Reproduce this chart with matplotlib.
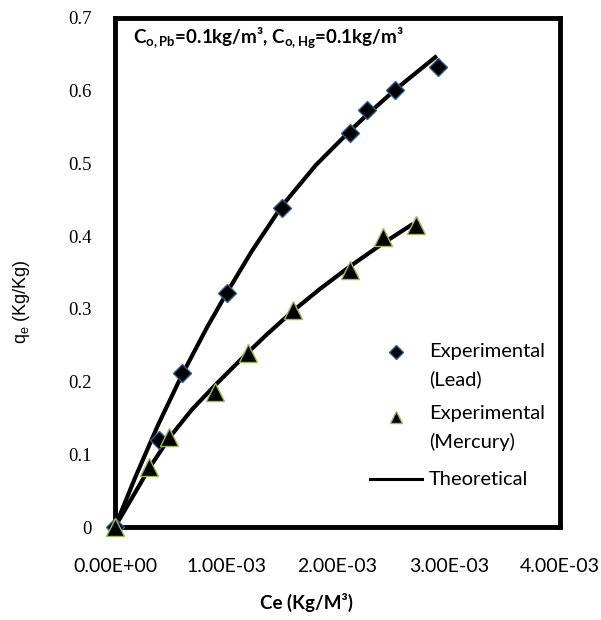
import matplotlib
matplotlib.use("Agg")
import matplotlib.pyplot as plt

plt.rcParams['font.family'] = ['Lato', 'DejaVu Sans']

# experimental points (Ce in kg/m3, qe in kg/kg)
ce_lead = [0.0, 0.40e-3, 0.60e-3, 1.01e-3, 1.50e-3, 2.11e-3, 2.27e-3, 2.52e-3, 2.90e-3]
qe_lead = [0.0, 0.120, 0.212, 0.322, 0.439, 0.542, 0.574, 0.601, 0.633]

ce_hg = [0.0, 0.31e-3, 0.49e-3, 0.90e-3, 1.20e-3, 1.60e-3, 2.11e-3, 2.41e-3, 2.71e-3]
qe_hg = [0.0, 0.083, 0.124, 0.186, 0.239, 0.298, 0.354, 0.399, 0.415]

# theoretical curves
ce_lead_th = [0.0, 0.180e-3, 0.387e-3, 0.602e-3, 0.827e-3, 1.007e-3, 1.231e-3,
              1.501e-3, 1.807e-3, 2.112e-3, 2.265e-3, 2.517e-3, 2.894e-3]
qe_lead_th = [0.0, 0.0674, 0.1403, 0.2091, 0.2744, 0.3226, 0.3796,
              0.4415, 0.4979, 0.5447, 0.5667, 0.6011, 0.6479]

ce_hg_th = [0.0, 0.153e-3, 0.315e-3, 0.494e-3, 0.692e-3, 0.899e-3, 1.196e-3, 1.366e-3,
            1.600e-3, 1.843e-3, 2.112e-3, 2.409e-3, 2.679e-3]
qe_hg_th = [0.0, 0.040, 0.0825, 0.1238, 0.1616, 0.1948, 0.2401, 0.2649,
            0.2971, 0.3274, 0.3584, 0.3901, 0.4168]

x_ticks = [0, 1e-3, 2e-3, 3e-3, 4e-3]
x_labels = ['0.00E+00', '1.00E-03', '2.00E-03', '3.00E-03', '4.00E-03']
y_ticks = [0, 0.1, 0.2, 0.3, 0.4, 0.5, 0.6, 0.7]
y_labels = ['0', '0.1', '0.2', '0.3', '0.4', '0.5', '0.6', '0.7']

lead_edge = '#2e5d8f'
hg_edge = '#9bbb59'

fig = plt.figure(figsize=(6.01, 6.2), dpi=100)
ax = fig.add_axes([0.1913, 0.150, 0.7404, 0.821])

ax.plot(ce_lead_th, qe_lead_th, color='black', lw=3, zorder=2,
        solid_capstyle='butt', solid_joinstyle='round')
ax.plot(ce_hg_th, qe_hg_th, color='black', lw=3, zorder=2,
        solid_capstyle='butt', solid_joinstyle='round')
ax.plot(ce_lead, qe_lead, ls='none', marker='D', ms=9.5, mfc='black', mec=lead_edge,
        mew=1, zorder=3, clip_on=False)
ax.plot(ce_hg, qe_hg, ls='none', marker='^', ms=13, mfc='black', mec=hg_edge,
        mew=1, zorder=3, clip_on=False)

ax.set_xlim(0, 4e-3)
ax.set_ylim(0, 0.7)
ax.set_xticks(x_ticks)
ax.set_xticklabels(x_labels, fontsize=14)
ax.set_yticks(y_ticks)
ax.set_yticklabels(y_labels, fontsize=13.5, family='Liberation Serif')
ax.tick_params(axis='both', length=0)
ax.tick_params(axis='x', pad=22)
ax.tick_params(axis='y', pad=17)
for s in ax.spines.values():
    s.set_linewidth(3.5)

ax.set_xlabel('Ce (Kg/M³)', fontsize=13.5, fontweight='bold', va='center')
ax.xaxis.set_label_coords(0.43, -0.149)
ax.set_ylabel('$\\mathregular{q_e}$ (Kg/Kg)', fontsize=13, family='Liberation Sans',
              va='center')
ax.yaxis.set_label_coords(-0.211, 0.442)

ax.text(0.04, 0.961, 'C$\\mathregular{_{o,Pb}}$=0.1kg/m³, C$\\mathregular{_{o,Hg}}$=0.1kg/m³',
        transform=ax.transAxes, fontsize=13.5, fontweight='bold', va='center', ha='left')

# legend, drawn by hand so the markers sit on the first line of each label
tr = ax.transAxes
ax.plot([0.631], [0.344], transform=tr, ls='none', marker='D', ms=7, mfc='black',
        mec=lead_edge, clip_on=False)
ax.text(0.706, 0.344, 'Experimental', transform=tr, fontsize=14.5, va='center')
ax.text(0.706, 0.291, '(Lead)', transform=tr, fontsize=14.5, va='center')
ax.plot([0.631], [0.216], transform=tr, ls='none', marker='^', ms=8.5, mfc='black',
        mec=hg_edge, clip_on=False)
ax.text(0.706, 0.222, 'Experimental', transform=tr, fontsize=14.5, va='center')
ax.text(0.706, 0.167, '(Mercury)', transform=tr, fontsize=14.5, va='center')
ax.plot([0.573, 0.690], [0.094, 0.094], transform=tr, color='black', lw=2.2)
ax.text(0.706, 0.094, 'Theoretical', transform=tr, fontsize=14.5, va='center')

fig.savefig('out.png', dpi=100)
